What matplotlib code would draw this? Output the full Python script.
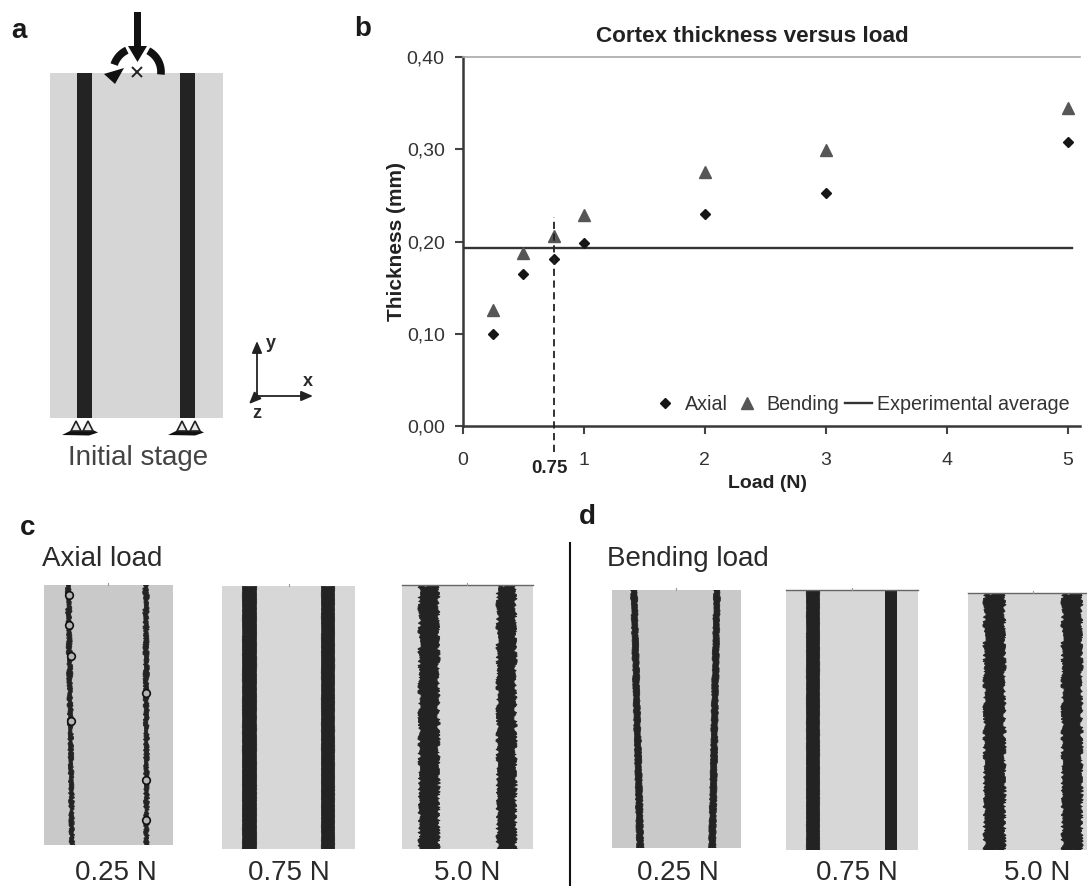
import numpy as np
import matplotlib
matplotlib.use("Agg")
import matplotlib.pyplot as plt
from matplotlib.patches import Rectangle, Polygon

plt.rcParams['font.family'] = ['Liberation Sans', 'DejaVu Sans']

# ---- chart data (panel b) ----
load_axial = [0.25, 0.5, 0.75, 1, 2, 3, 5]
thick_axial = [0.100, 0.165, 0.181, 0.198, 0.230, 0.2525, 0.308]
load_bending = [0.25, 0.5, 0.75, 1, 2, 3, 5]
thick_bending = [0.126, 0.188, 0.206, 0.229, 0.276, 0.2995, 0.345]
experimental_average = 0.193
x_ticks = [0, 1, 2, 3, 4, 5]
y_ticks = [0.0, 0.1, 0.2, 0.3, 0.4]
y_tick_labels = ['0,00', '0,10', '0,20', '0,30', '0,40']
marked_load = 0.75

W, H = 1087, 886
fig = plt.figure(figsize=(W / 100, H / 100), dpi=100, facecolor='white')

# ---- pixel canvas for the diagrams ----
sk = fig.add_axes([0, 0, 1, 1])
sk.set_xlim(0, W)
sk.set_ylim(H, 0)
sk.axis('off')

DARK = '#232323'


def label(x, y, s, size=20, weight='normal', color='#2a2a2a', ha='center', **kw):
    sk.text(x, y + 2, s, fontsize=size, fontweight=weight, color=color, ha=ha, va='center', **kw)


def specimen(x0, x1, y0, y1, color, topline=False, tick=None):
    sk.add_patch(Rectangle((x0, y0), x1 - x0, y1 - y0, fc=color, ec='none', zorder=1))
    if topline:
        sk.plot([x0, x1], [y0, y0], color='#666666', lw=1, zorder=3, clip_on=True)
    if tick is not None:
        sk.plot([tick, tick], [y0 - 2, y0], color='#999999', lw=0.8, zorder=3)


def band(tl, tr, bl, br, y0, y1, jag=0.0):
    p = Polygon([(tl, y0), (tr, y0), (br, y1), (bl, y1)], closed=True,
                fc=DARK, ec=DARK if jag else 'none', lw=0.6 if jag else 0, zorder=2)
    sk.add_patch(p)
    if jag:
        p.set_sketch_params(scale=jag, length=6, randomness=40)
        p.set_clip_path(Rectangle((tl - 40, y0), tr - tl + 80, y1 - y0, transform=sk.transData))


# ---- panel a ----
label(19, 29, 'a', size=20, weight='bold', color='#1a1a1a')
specimen(50, 223, 72.5, 418, '#d6d6d6')
band(77, 92, 77, 92, 72.5, 418)
band(180, 195, 180, 195, 72.5, 418)
label(138, 456, 'Initial stage', size=20, color='#444444')

# load arrow
sk.add_patch(Polygon([(134, 12), (141, 12), (141, 46), (147, 46), (137.5, 62),
                      (128, 46), (134, 46)], closed=True, fc='#111111', ec='none', zorder=5))
# moment arc
ang_r = np.radians(np.linspace(-6, 62, 30))
ang_l = np.radians(np.linspace(115, 162, 30))
R = 24
sk.plot(137 + R * np.cos(ang_r), 72 - R * np.sin(ang_r), color='#111111', lw=5.5,
        solid_capstyle='butt', zorder=4)
sk.plot(137 + R * np.cos(ang_l), 72 - R * np.sin(ang_l), color='#111111', lw=5.5,
        solid_capstyle='butt', zorder=4)
sk.add_patch(Polygon([(104, 74), (124, 68), (115, 84)], closed=True, fc='#111111', ec='none', zorder=5))
sk.plot([137], [72], marker='x', ms=7, mew=1.4, color='#222222', zorder=6)

# supports
for gx0, gx1, t1, t2 in [(62, 98, 76, 88), (168, 204, 182, 195)]:
    sk.add_patch(Polygon([(gx0, 435), (gx0 + 9, 430.5), (gx1 - 4, 430.5), (gx1, 432.5),
                          (gx1 - 9, 435.5)], closed=True, fc='#111111', ec='none', zorder=4))
    for t in (t1, t2):
        sk.add_patch(Polygon([(t - 5, 431), (t + 5, 431), (t, 421)], closed=True,
                             fc='#e8e8e8', ec='#222222', lw=1.2, zorder=5))

# coordinate triad
for (x, y) in [(257, 341), (313, 396), (249, 404)]:
    sk.annotate('', xy=(x, y), xytext=(257, 396),
                arrowprops=dict(arrowstyle='-|>,head_width=0.3,head_length=0.7',
                                color='#222222', lw=1.3, shrinkA=0, shrinkB=0))
label(271, 342, 'y', size=13, weight='bold')
label(308, 379, 'x', size=13, weight='bold')
label(257, 411, 'z', size=13, weight='bold')

# ---- panel b ----
ax = fig.add_axes([462.8 / W, 1 - 426 / H, (1080 - 462.8) / W, (426 - 57.3) / H])
ax.patch.set_alpha(0)
ax.set_xlim(0, 5.1)
ax.set_ylim(0, 0.40)
ax.plot(load_axial, thick_axial, ls='none', marker='D', ms=5.6, color='#161616', label='Axial', zorder=4)
ax.plot(load_bending, thick_bending, ls='none', marker='^', ms=8.6, color='#565656', label='Bending', zorder=4)
ax.plot([0, 5.03], [experimental_average] * 2, color='#333333', lw=1.7, label='Experimental average', zorder=3)
ax.plot([marked_load, marked_load], [-0.028, 0.227], color='#222222', lw=1.3,
        ls=(0, (4, 2.5)), clip_on=False, zorder=5)

ax.set_xticks(x_ticks)
ax.set_xticklabels([str(v) for v in x_ticks])
ax.set_yticks(y_ticks)
ax.set_yticklabels(y_tick_labels)
ax.tick_params(axis='both', length=6, width=1.5, color='#444444', labelcolor='#333333', labelsize=14)
ax.tick_params(axis='x', pad=12.5)
ax.tick_params(axis='y', pad=7)
for s in ('left', 'bottom'):
    ax.spines[s].set_linewidth(1.8)
    ax.spines[s].set_color('#383838')
ax.spines['top'].set_linewidth(1.2)
ax.spines['top'].set_color('#a8a8a8')
ax.spines['right'].set_visible(False)

label(752, 34, 'Cortex thickness versus load', size=16.2, weight='bold', color='#222222')
label(768, 481, 'Load (N)', size=14, weight='bold', color='#222222')
label(396, 239, 'Thickness (mm)', size=15, weight='bold', color='#222222', rotation=90)
label(549, 466, '0.75', size=13.5, weight='bold', color='#222222')
label(363, 27, 'b', size=20, weight='bold', color='#1a1a1a')

leg = ax.legend(ncol=3, loc='lower right', bbox_to_anchor=(0.984, 0.0316), frameon=False,
                fontsize=14.2, columnspacing=0.3, handletextpad=0.3, handlelength=1.35,
                borderpad=0, borderaxespad=0, labelcolor='#333333')

# ---- panel c ----
label(28, 526, 'c', size=20, weight='bold', color='#1a1a1a')
label(42, 557, 'Axial load', size=20, ha='left', color='#2a2a2a')
specimen(44, 173, 585, 845, '#c9c9c9', tick=108)
band(66, 71, 70, 74, 585, 845, jag=0.8)
band(143, 148, 143.5, 148, 585, 845, jag=0.8)
c_beads_x = [68.5, 68.5, 71, 71, 146, 146, 146]
c_beads_y = [595, 625, 656, 721, 693, 820, 780]
sk.plot(c_beads_x, c_beads_y, ls='none', marker='o', ms=5.5, mfc='#b5b5b5', mec='#111111', mew=1.2, zorder=4)
specimen(222, 355, 585.5, 848.5, '#d7d7d7', tick=289)
band(241.5, 256, 241.5, 256, 585.5, 848.5, jag=0.2)
band(321, 333.5, 321, 333.5, 585.5, 848.5, jag=0.2)
specimen(401.5, 532.5, 585, 848.5, '#d7d7d7', topline=True, tick=467)
band(418.5, 438, 418.5, 438, 585, 848.5, jag=1.6)
band(496.5, 514.5, 496.5, 514.5, 585, 848.5, jag=1.6)
label(116, 871, '0.25 N')
label(289, 871, '0.75 N')
label(467, 871, '5.0 N')

# divider
sk.plot([570, 570], [543, 886], color='#111111', lw=1.5, zorder=3)

# ---- panel d ----
label(587, 515, 'd', size=20, weight='bold', color='#1a1a1a')
label(607, 557, 'Bending load', size=20, ha='left', color='#2a2a2a')
specimen(612, 741, 590, 848, '#c9c9c9', tick=676)
band(631, 637, 637, 643.5, 590, 848, jag=0.5)
band(714, 720, 709, 715.5, 590, 848, jag=0.5)
specimen(786, 918, 590, 850, '#d7d7d7', topline=True, tick=852)
band(805.5, 818.5, 805.5, 818.5, 590, 850, jag=0.2)
band(884.5, 897, 884.5, 897, 590, 850, jag=0)
specimen(968, 1087, 592.5, 850, '#d7d7d7', topline=True, tick=1033)
band(984, 1004, 984, 1004, 592.5, 850, jag=1.6)
band(1062, 1081, 1062, 1081, 592.5, 850, jag=1.6)
label(678, 871, '0.25 N')
label(856.5, 871, '0.75 N')
label(1037, 871, '5.0 N')

fig.savefig('out.png', dpi=100, facecolor='white')
